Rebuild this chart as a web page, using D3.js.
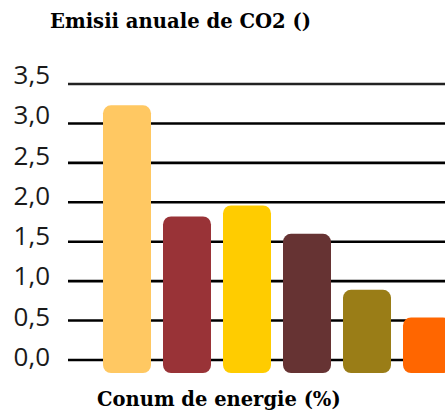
<!DOCTYPE html>
<html>
<head>
<meta charset="utf-8">
<script src="https://cdn.jsdelivr.net/npm/d3@7"></script>
<style>
    body { margin: 0; background: #fff; }
</style>
</head>
<body>
<div id="chart"></div>
<script>
// data
const categories = ["s1", "s2", "s3", "s4", "s5", "s6"];
const values = [3.23, 1.82, 1.96, 1.60, 0.89, 0.54];
const barColors = ["#FFC862", "#993337", "#FFCC00", "#663333", "#9A7D17", "#FF6600"];
const ticks = [0, 0.5, 1, 1.5, 2, 2.5, 3, 3.5];
const tickLabels = ["0,0", "0,5", "1,0", "1,5", "2,0", "2,5", "3,0", "3,5"];
const title = "Emisii anuale de CO2 ()";
const xTitle = "Conum de energie (%)";

const width = 445, height = 410;

const svg = d3.select("#chart")
    .append("svg")
    .attr("width", width)
    .attr("height", height);

const x = d3.scaleBand()
    .domain(categories)
    .range([103, 451])
    .paddingInner(0.2)
    .paddingOuter(0);

const y = d3.scaleLinear()
    .domain([0, 3.5])
    .range([360, 84]);

// labels sit a touch looser than the grid
const yLabel = d3.scaleLinear()
    .domain([0, 3.5])
    .range([366, 84]);

// grid lines
svg.append("g")
    .selectAll("line")
    .data(ticks)
    .enter()
    .append("line")
    .attr("x1", 68)
    .attr("x2", width)
    .attr("y1", d => y(d))
    .attr("y2", d => y(d))
    .attr("stroke", d => d === 3.5 ? "#222" : "#000")
    .attr("stroke-width", 2.6);

// tick labels
svg.append("g")
    .selectAll("text")
    .data(ticks)
    .enter()
    .append("text")
    .attr("x", 50)
    .attr("y", d => yLabel(d))
    .attr("text-anchor", "end")
    .style("font-family", "'Open Sans', sans-serif")
    .style("font-size", "26px")
    .style("fill", "#1a1a1a")
    .text((d, i) => tickLabels[i]);

// bars, they run a bit below the zero line
svg.append("g")
    .selectAll("rect")
    .data(values)
    .enter()
    .append("rect")
    .attr("x", (d, i) => x(categories[i]))
    .attr("y", d => y(d))
    .attr("width", x.bandwidth())
    .attr("height", d => y(0) - y(d) + 13)
    .attr("rx", 8)
    .attr("ry", 8)
    .attr("fill", (d, i) => barColors[i]);

svg.append("text")
    .attr("x", 50)
    .attr("y", 28)
    .style("font-family", "'DejaVu Serif', serif")
    .style("font-weight", "bold")
    .style("font-size", "19.6px")
    .style("fill", "#000")
    .text(title);

svg.append("text")
    .attr("x", 97)
    .attr("y", 406)
    .style("font-family", "'DejaVu Serif', serif")
    .style("font-weight", "bold")
    .style("font-size", "19.5px")
    .style("fill", "#000")
    .text(xTitle);
</script>
</body>
</html>
